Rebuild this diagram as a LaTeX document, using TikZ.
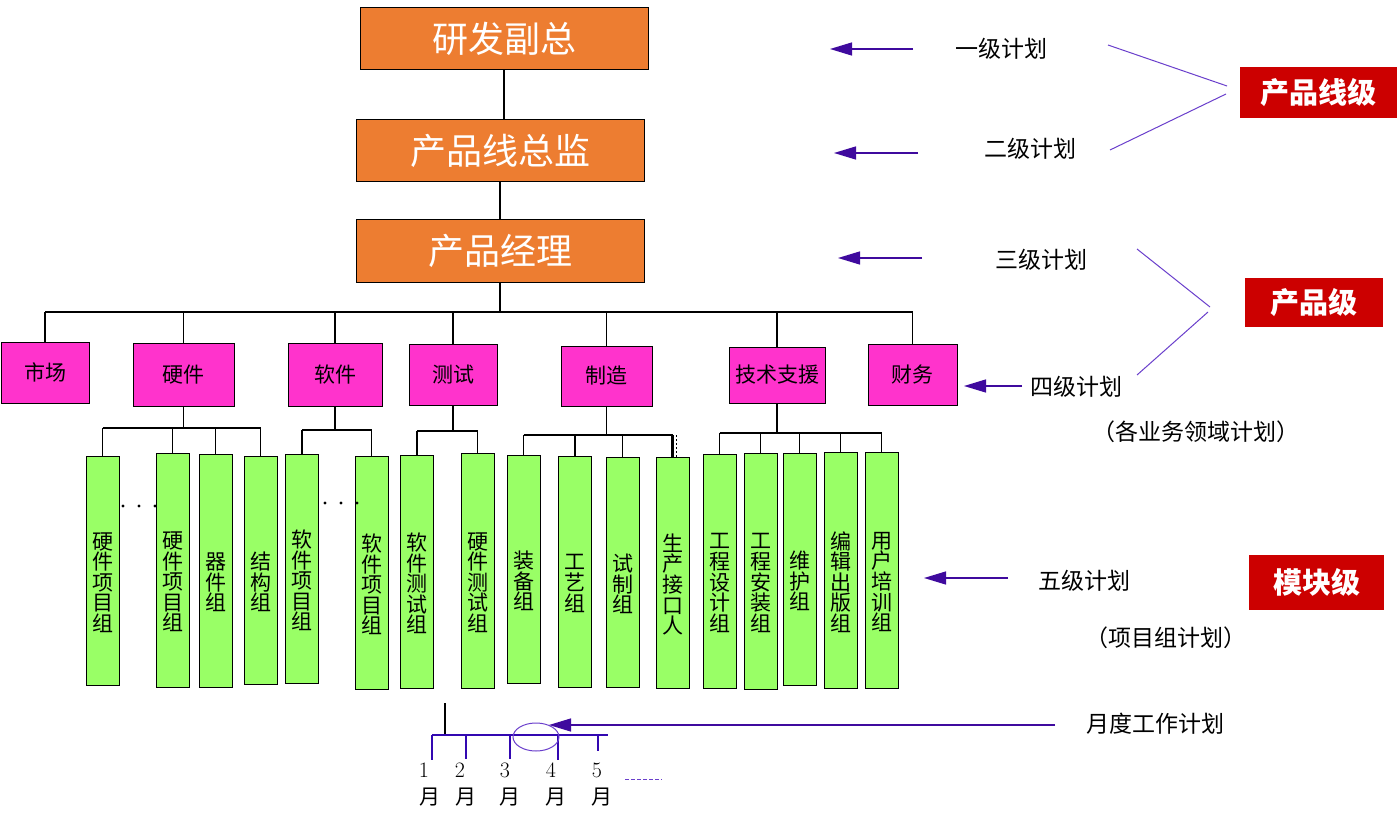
\documentclass[tikz,border=0pt]{standalone}
\usepackage{fontspec}
\newfontfamily\cjk{Noto Sans CJK SC}
\usetikzlibrary{arrows.meta,shapes.geometric}
\definecolor{orangefill}{HTML}{ED7D31}
\definecolor{pinkfill}{HTML}{FF33CC}
\definecolor{greenfill}{HTML}{99FF66}
\definecolor{redfill}{HTML}{CC0000}
\definecolor{arrowpurple}{HTML}{3F0A9E}
\definecolor{linepurple}{HTML}{6A3FCC}
\newcommand\gnode[5]{%
  \node[gbox, minimum height=#4] (#1) at (#2,#3) {};
  \node[gtext] (#1t) at ([yshift=-12pt]#1.center) {#5};}
\begin{document}
\begin{tikzpicture}[x=1pt,y=-1pt,
  obox/.style={draw=black, line width=1pt, fill=orangefill, text=white, inner sep=0pt,
    font=\cjk\fontsize{36}{37}\selectfont, minimum width=288, minimum height=62},
  pbox/.style={draw=black, line width=1pt, fill=pinkfill, text=black, inner sep=0pt,
    font=\cjk\fontsize{21}{22}\selectfont},
  gbox/.style={draw=black, line width=1pt, fill=greenfill, inner sep=0pt, minimum width=33},
  gtext/.style={text=black, inner sep=0pt, align=center, font=\cjk\fontsize{21}{20.6}\selectfont},
  rbox/.style={fill=redfill, text=white, inner sep=0pt, font=\cjk\bfseries\fontsize{29}{30}\selectfont},
  lbl/.style={inner sep=0pt, text=black, font=\cjk\fontsize{23}{24}\selectfont},
  mlbl/.style={inner sep=0pt, text=black, font=\cjk\fontsize{21}{21}\selectfont},
  conn/.style={draw=black, line width=1.2pt},
  parrow/.style={draw=arrowpurple, line width=1.3pt, -{Triangle[length=22pt,width=13pt]}},
  pline/.style={draw=linepurple, line width=1pt},
  tline/.style={draw=arrowpurple!80!blue, line width=1.3pt},
  dotmark/.style={fill=black}
]
\fill[white] (0,0) rectangle (1400,813);
\useasboundingbox (0,0) rectangle (1400,813);

% ---- top chain
\node[obox] (vp) at (504,39) {研发副总};
\node[obox] (pd) at (500,151) {产品线总监};
\node[obox] (pm) at (500,251) {产品经理};
\draw[conn] (vp.south) -- (vp.south |- pd.north);
\draw[conn] (pd.south) -- (pd.south |- pm.north);

% ---- level 4 (pink)
\node[pbox, minimum width=88, minimum height=61] (mkt) at (45,372.5) {市场};
\node[pbox, minimum width=101, minimum height=63] (hw) at (183.5,374.5) {硬件};
\node[pbox, minimum width=94, minimum height=63] (sw) at (335,374.5) {软件};
\node[pbox, minimum width=88, minimum height=61] (ts) at (453,374.5) {测试};
\node[pbox, minimum width=91, minimum height=60] (mf) at (606.5,376) {制造};
\node[pbox, minimum width=96, minimum height=56] (tsp) at (777,375) {技术支援};
\node[pbox, minimum width=89, minimum height=61] (fin) at (912.5,374.5) {财务};

\coordinate (mainbus) at (0,312);
\draw[conn] (pm.south) -- (pm.south |- mainbus);
\draw[conn] (mkt.north |- mainbus) -- (fin.north |- mainbus);
\foreach \n in {mkt,hw,sw,ts,mf,tsp,fin}
  \draw[conn] (\n.north) -- (\n.north |- mainbus);

% ---- level 5 (green)
\gnode{g1}{102.5}{570.5}{229}{硬\\件\\项\\目\\组}
\gnode{g2}{172.5}{570}{234}{硬\\件\\项\\目\\组}
\gnode{g3}{215.5}{570.5}{233}{器\\件\\组}
\gnode{g4}{260.5}{570}{228}{结\\构\\组}
\gnode{g5}{302}{568.5}{229}{软\\件\\项\\目\\组}
\gnode{g6}{371.5}{572.5}{233}{软\\件\\项\\目\\组}
\gnode{g7}{417}{571.5}{233}{软\\件\\测\\试\\组}
\gnode{g8}{477.5}{570.5}{235}{硬\\件\\测\\试\\组}
\gnode{g9}{523.5}{569}{228}{装\\备\\组}
\gnode{g10}{575}{571.5}{231}{工\\艺\\组}
\gnode{g11}{622.5}{572}{230}{试\\制\\组}
\gnode{g12}{672.5}{572.5}{231}{生\\产\\接\\口\\人}
\gnode{g13}{719.5}{571}{234}{工\\程\\设\\计\\组}
\gnode{g14}{760.5}{571}{236}{工\\程\\安\\装\\组}
\gnode{g15}{799.5}{569}{232}{维\\护\\组}
\gnode{g16}{840.5}{570}{236}{编\\辑\\出\\版\\组}
\gnode{g17}{881.5}{570}{236}{用\\户\\培\\训\\组}

% hardware group
\coordinate (hwbus) at (0,428);
\draw[conn] (hw.south) -- (hw.south |- hwbus);
\draw[conn] (g1.north |- hwbus) -- (g4.north |- hwbus);
\foreach \n in {g1,g2,g3,g4} \draw[conn] (\n.north) -- (\n.north |- hwbus);
% software group
\coordinate (swbus) at (0,430);
\draw[conn] (sw.south) -- (sw.south |- swbus);
\draw[conn] (g5.north |- swbus) -- (g6.north |- swbus);
\foreach \n in {g5,g6} \draw[conn] (\n.north) -- (\n.north |- swbus);
% test group
\coordinate (tsbus) at (0,431);
\draw[conn] (ts.south) -- (ts.south |- tsbus);
\draw[conn] (g7.north |- tsbus) -- (g8.north |- tsbus);
\foreach \n in {g7,g8} \draw[conn] (\n.north) -- (\n.north |- tsbus);
% manufacturing group
\coordinate (mfbus) at (0,435);
\draw[conn] (mf.south) -- (mf.south |- mfbus);
\draw[conn] (g9.north |- mfbus) -- (g12.north |- mfbus);
\foreach \n in {g9,g10,g11} \draw[conn] (\n.north) -- (\n.north |- mfbus);
\draw[conn, line width=2.4pt] (g12.north) -- (g12.north |- mfbus);
\draw[conn, line width=0.8pt, dash pattern=on 2pt off 2pt] ([xshift=4pt]g12.north) -- ([xshift=4pt]g12.north |- mfbus);
% tech support group
\coordinate (tspbus) at (0,433);
\draw[conn] (tsp.south) -- (tsp.south |- tspbus);
\draw[conn] (g13.north |- tspbus) -- (g17.north |- tspbus);
\foreach \n in {g13,g14,g15,g16,g17} \draw[conn] (\n.north) -- (\n.north |- tspbus);

% ellipsis dots
\foreach \x in {123,139,155} \fill[dotmark] (\x,506) circle (1.6);
\foreach \x in {325,341,357} \fill[dotmark] (\x,503) circle (1.6);

% ---- right-hand labels
\node[lbl] (l1) at (1001,49) {一级计划};
\node[lbl] (l2) at (1030,149) {二级计划};
\node[lbl] (l3) at (1041,260) {三级计划};
\node[lbl] (l4) at (1076,387) {四级计划};
\node[lbl] (l4b) at (1196,432) {（各业务领域计划）};
\node[lbl] (l5) at (1084,581) {五级计划};
\node[lbl] (l5b) at (1166,638) {（项目组计划）};
\node[lbl] (lm) at (1155,724) {月度工作计划};

\node[rbox, minimum width=157, minimum height=51] (r1) at (1318.5,92.5) {产品线级};
\node[rbox, minimum width=138, minimum height=49] (r2) at (1314,302.5) {产品级};
\node[rbox, minimum width=135, minimum height=55] (r3) at (1316.5,582.5) {模块级};

% arrows towards the hierarchy
\coordinate (a1s) at (913,49);  \coordinate (a1e) at (830,49);
\coordinate (a2s) at (918,153); \coordinate (a2e) at (834,153);
\coordinate (a3s) at (922,258); \coordinate (a3e) at (838,258);
\coordinate (a4s) at (1022,386); \coordinate (a4e) at (964,386);
\coordinate (a5s) at (1008,578); \coordinate (a5e) at (924,578);
\draw[parrow] (a1s) -- (a1e);
\draw[parrow] (a2s) -- (a2e);
\draw[parrow] (a3s) -- (a3e);
\draw[parrow] (a4s) -- (a4e);
\draw[parrow] (a5s) -- (a5e);

% grouping lines to the red labels
\coordinate (p1a) at (1108,45);  \coordinate (p1b) at (1227,86);
\coordinate (p2a) at (1110,150); \coordinate (p2b) at (1226,94);
\coordinate (p3a) at (1137,249); \coordinate (p3b) at (1210,307);
\coordinate (p4a) at (1137,375); \coordinate (p4b) at (1208,312);
\draw[pline] (p1a) -- (p1b);
\draw[pline] (p2a) -- (p2b);
\draw[pline] (p3a) -- (p3b);
\draw[pline] (p4a) -- (p4b);

% ---- month timeline
\coordinate (tl) at (432,735);
\coordinate (tr) at (608,735);
\coordinate (tstem) at (445,703);
\draw[conn] (tstem) -- (tstem |- tl);
\draw[tline] (tl) -- (tr);
\foreach \x/\len in {432/760,466/759,510/759,558/760,598/751}
  \draw[tline] (\x,735) -- (\x,\len);
\node[draw=linepurple, line width=1pt, ellipse, minimum width=46, minimum height=28, inner sep=0pt] (ell) at (536,737) {};
\coordinate (mstart) at (1055,725);
\coordinate (mtip) at (549,725);
\draw[parrow] (mstart) -- (mtip);

\foreach \i/\x in {1/424,2/460,3/505,4/551,5/597}
  \node[inner sep=0pt, font=\fontsize{22}{22}\selectfont] (n\i) at (\x,770) {\i};
\foreach \i/\x in {1/430,2/466,3/510,4/556,5/602}
  \node[mlbl] (mo\i) at (\x,797) {月};
\coordinate (dl) at (625,779); \coordinate (dr) at (662,779);
\draw[draw=linepurple, line width=1pt, dash pattern=on 4pt off 2pt] (dl) -- (dr);
\end{tikzpicture}
\end{document}
